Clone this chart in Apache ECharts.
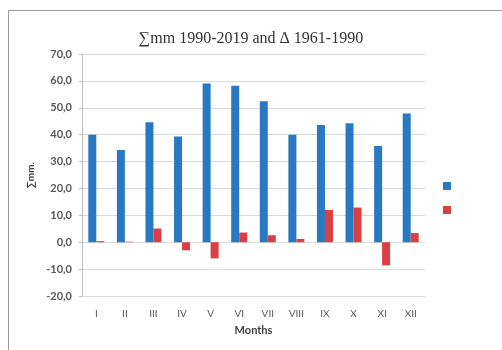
<!DOCTYPE html>
<html>
<head>
<meta charset="utf-8">
<script src="https://cdn.jsdelivr.net/npm/echarts@6/dist/echarts.min.js"></script>
<style>
  html, body { margin: 0; padding: 0; background: #fff; }
  #chart { width: 502px; height: 350px; }
</style>
</head>
<body>
<div id="chart"></div>
<script>
// Monthly precipitation sums and the change against the 1961-1990 normal
const months = ['I', 'II', 'III', 'IV', 'V', 'VI', 'VII', 'VIII', 'IX', 'X', 'XI', 'XII'];
const sumMm = [40.0, 34.3, 44.6, 39.3, 59.0, 58.2, 52.4, 40.0, 43.6, 44.2, 35.8, 47.9];
const deltaMm = [0.4, 0.2, 5.1, -3.0, -6.0, 3.6, 2.6, 1.2, 12.0, 12.9, -8.6, 3.4];
const yTicks = [-20, 70, 10];  // min, max, step

const chart = echarts.init(document.getElementById('chart'), null, { renderer: 'canvas' });

const labelFont = 'Lato, "Open Sans", "DejaVu Sans", sans-serif';

chart.setOption({
  animation: false,
  backgroundColor: '#ffffff',
  title: {
    text: '∑mm 1990-2019 and Δ 1961-1990',
    left: 'center',
    top: 26,
    textStyle: {
      fontFamily: '"Liberation Serif", "DejaVu Serif", serif',
      fontSize: 16,
      fontWeight: 'normal',
      color: '#333333'
    }
  },
  graphic: [{
    type: 'rect',
    shape: { x: 8.5, y: 10.5, width: 500, height: 360 },
    style: { fill: 'none', stroke: '#9a9a9a', lineWidth: 1 },
    silent: true
  }],
  legend: {
    orient: 'vertical',
    left: 443,
    top: 182,
    padding: 0,
    itemWidth: 8,
    itemHeight: 8,
    itemGap: 16,
    icon: 'rect',
    formatter: () => ' ',
    textStyle: { fontSize: 8 },
    data: ['∑mm 1990-2019', 'Δ 1961-1990']
  },
  grid: { left: 82, right: 77, top: 54, bottom: 54, containLabel: false },
  xAxis: {
    type: 'category',
    data: months,
    name: 'Months',
    nameLocation: 'middle',
    nameGap: 29,
    nameTextStyle: { fontFamily: labelFont, fontWeight: 'bold', fontSize: 11, color: '#404040' },
    axisLine: { show: false },
    axisTick: { show: false },
    axisLabel: { fontFamily: labelFont, fontSize: 10, color: '#595959', margin: 13 }
  },
  yAxis: {
    type: 'value',
    min: yTicks[0],
    max: yTicks[1],
    interval: yTicks[2],
    name: '∑mm.',
    nameLocation: 'middle',
    nameGap: 40,
    nameRotate: 90,
    nameTextStyle: { fontFamily: labelFont, fontWeight: 'bold', fontSize: 10, color: '#404040' },
    axisLine: { show: true, onZero: false, lineStyle: { color: '#bfbfbf' } },
    axisTick: { show: true, length: 3, lineStyle: { color: '#bfbfbf' } },
    axisLabel: {
      fontFamily: labelFont, fontWeight: 'bold', fontSize: 11, color: '#595959', margin: 10,
      formatter: v => v.toFixed(1).replace('.', ',')
    },
    splitLine: { lineStyle: { color: '#d9d9d9' } }
  },
  series: [
    {
      name: '∑mm 1990-2019',
      type: 'bar',
      data: sumMm,
      barWidth: 8,
      barGap: '0%',
      itemStyle: { color: '#2878c2' }
    },
    {
      name: 'Δ 1961-1990',
      type: 'bar',
      data: deltaMm,
      barWidth: 8,
      barGap: '0%',
      itemStyle: { color: '#dc3f42' }
    }
  ]
});
</script>
</body>
</html>
